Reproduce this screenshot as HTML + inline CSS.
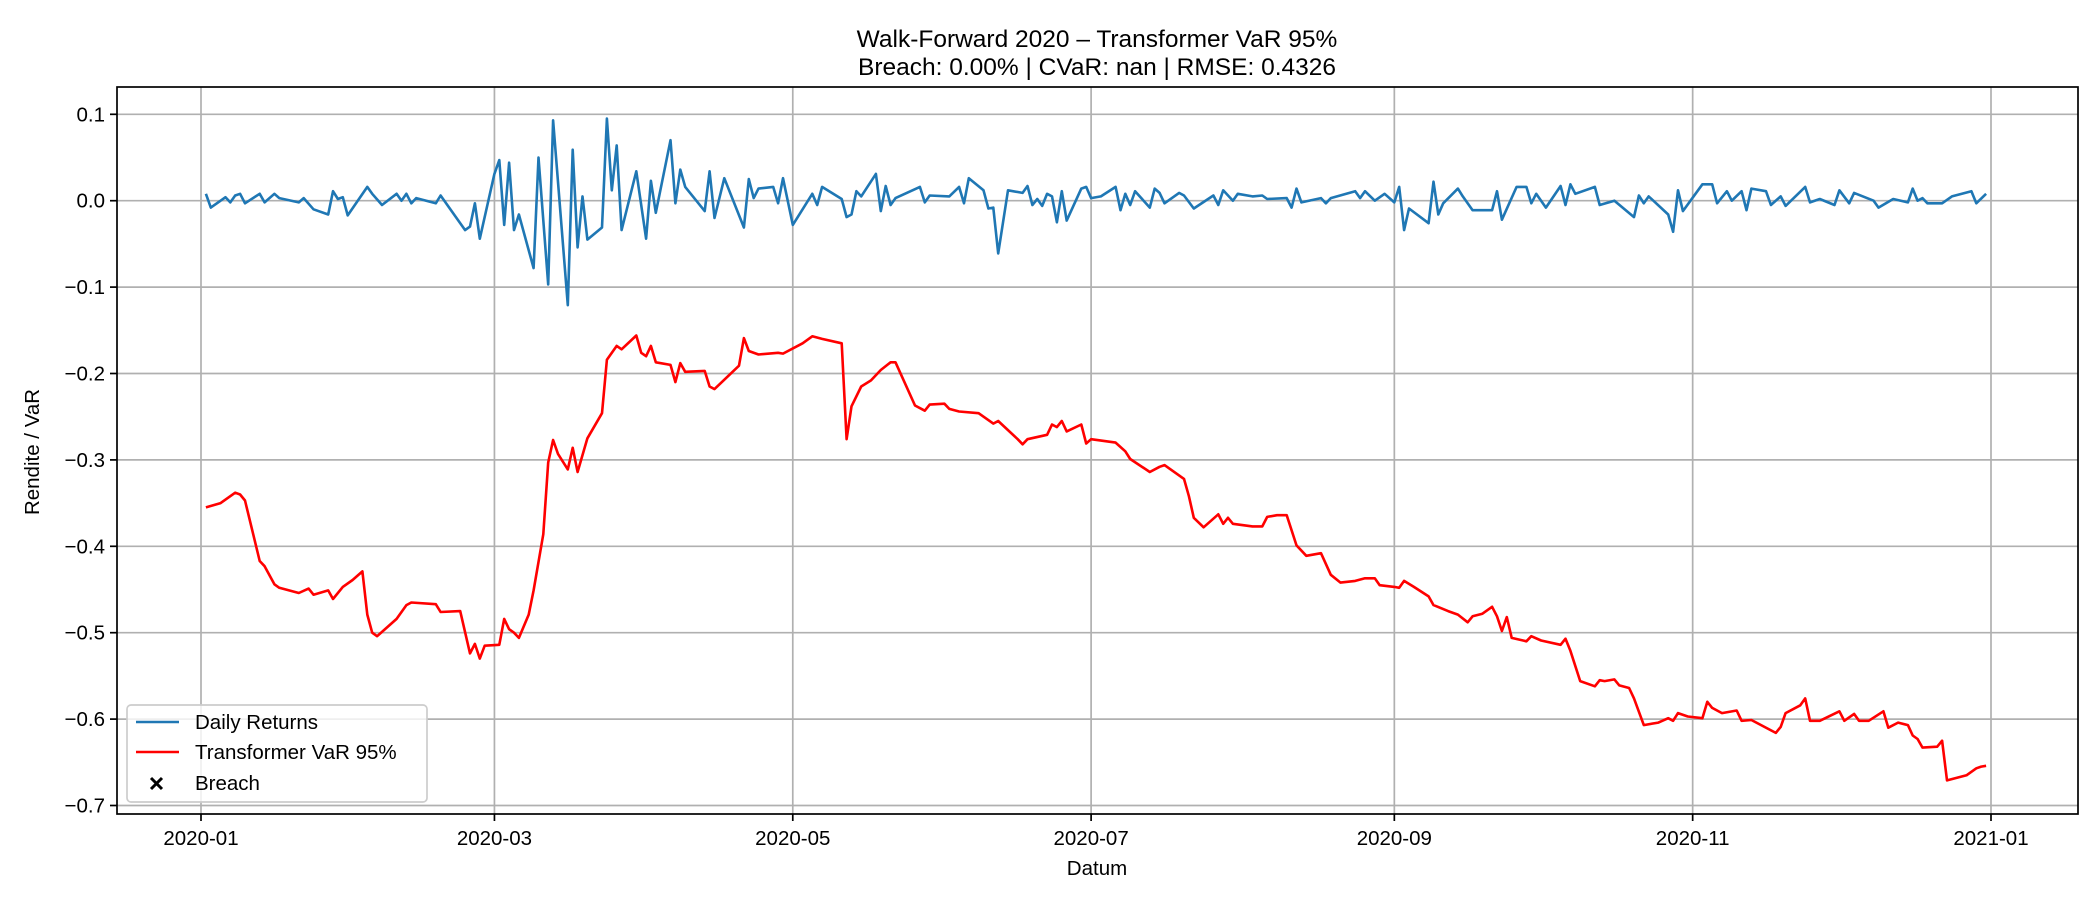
<!DOCTYPE html>
<html><head><meta charset="utf-8"><style>
html,body{margin:0;padding:0;background:#fff;}
svg{display:block;font-family:"Liberation Sans","DejaVu Sans",sans-serif;}
</style></head><body>
<svg id="chart" width="2100" height="900" xmlns="http://www.w3.org/2000/svg">
<rect width="2100" height="900" fill="#fff"/>
<g id="grid"></g>
<g id="series"></g>
<g id="axes"></g>
<g id="legend"></g>
</svg>
<script>
const retDays=[1,2,4,5,6,7,8,9,12,13,15,16,20,21,23,26,27,28,29,30,34,35,37,40,41,42,43,44,48,49,54,55,56,57,60,61,62,63,64,65,68,69,71,72,75,76,77,78,79,82,83,84,85,86,89,91,92,93,96,97,98,99,103,104,105,107,111,112,113,114,117,118,119,121,125,126,127,131,132,133,134,135,138,139,140,141,142,147,148,149,153,155,156,157,160,161,162,163,165,168,169,170,171,172,173,174,175,176,177,180,181,182,184,187,188,189,190,191,194,195,196,197,200,201,203,207,208,209,211,212,215,217,218,222,223,224,225,229,230,231,236,237,238,240,242,244,245,246,247,251,252,253,254,257,258,260,264,265,266,269,271,272,273,275,278,279,280,281,285,286,289,293,294,295,296,300,301,302,303,307,309,310,312,313,315,316,317,320,321,323,324,328,329,331,334,335,337,338,342,343,346,349,350,351,352,353,356,358,362,363,365];
const retVals=[0.008,-0.008,0,0.004,-0.002,0.006,0.008,-0.003,0.008,-0.002,0.008,0.003,-0.002,0.003,-0.01,-0.016,0.011,0.002,0.004,-0.017,0.016,0.008,-0.005,0.008,0,0.008,-0.003,0.003,-0.003,0.006,-0.034,-0.03,-0.003,-0.044,0.031,0.047,-0.028,0.044,-0.034,-0.016,-0.078,0.05,-0.097,0.093,-0.121,0.059,-0.054,0.005,-0.045,-0.031,0.095,0.012,0.064,-0.034,0.034,-0.044,0.023,-0.014,0.07,-0.003,0.036,0.016,-0.012,0.034,-0.02,0.026,-0.031,0.025,0.003,0.014,0.016,-0.003,0.026,-0.028,0.008,-0.005,0.016,0.002,-0.019,-0.016,0.011,0.005,0.031,-0.012,0.017,-0.005,0.003,0.016,-0.002,0.006,0.005,0.016,-0.003,0.026,0.012,-0.009,-0.008,-0.061,0.012,0.009,0.017,-0.005,0.002,-0.006,0.008,0.005,-0.025,0.011,-0.023,0.014,0.016,0.003,0.005,0.016,-0.011,0.008,-0.005,0.011,-0.008,0.014,0.009,-0.003,0.009,0.006,-0.009,0.006,-0.005,0.012,0,0.008,0.005,0.006,0.002,0.003,-0.008,0.014,-0.002,0.003,-0.003,0.003,0.011,0.003,0.011,0,0.008,-0.002,0.016,-0.034,-0.009,-0.026,0.022,-0.016,-0.003,0.014,0.005,-0.011,-0.011,0.011,-0.022,0.016,0.016,-0.003,0.008,-0.008,0.017,-0.005,0.019,0.008,0.016,-0.005,0,-0.019,0.006,-0.003,0.005,-0.016,-0.036,0.012,-0.012,0.019,0.019,-0.003,0.011,0,0.011,-0.011,0.014,0.011,-0.005,0.005,-0.006,0.016,-0.002,0.002,-0.005,0.012,-0.003,0.009,0,-0.008,0.002,-0.002,0.014,0,0.003,-0.003,-0.003,0.005,0.011,-0.003,0.008];
const varDays=[1,4,7,8,9,12,13,15,16,20,22,23,26,27,29,31,33,34,35,36,40,42,43,48,49,53,55,56,57,58,61,62,63,64,65,67,68,70,71,72,73,75,76,77,79,82,83,85,86,89,90,91,92,93,96,97,98,99,103,104,105,110,111,112,114,118,119,123,125,127,131,132,133,135,137,139,141,142,146,148,149,152,153,155,159,162,163,167,168,169,173,174,175,176,177,180,181,182,187,189,190,194,196,197,201,202,203,205,208,209,210,211,215,217,218,220,222,224,226,229,231,233,236,238,240,241,244,245,246,248,251,252,255,257,259,260,262,264,265,266,267,268,271,272,274,278,279,280,282,285,286,287,289,290,292,293,295,298,300,301,302,304,307,308,309,311,314,315,317,322,323,324,327,328,329,331,335,336,338,339,341,344,345,347,349,350,351,352,355,356,357,361,363,364,365];
const varVals=[-0.355,-0.35,-0.338,-0.34,-0.347,-0.417,-0.423,-0.444,-0.448,-0.454,-0.449,-0.456,-0.451,-0.461,-0.447,-0.439,-0.429,-0.479,-0.5,-0.504,-0.484,-0.468,-0.465,-0.467,-0.476,-0.475,-0.524,-0.513,-0.53,-0.515,-0.514,-0.484,-0.496,-0.5,-0.506,-0.479,-0.451,-0.386,-0.303,-0.277,-0.293,-0.311,-0.286,-0.314,-0.275,-0.246,-0.184,-0.168,-0.172,-0.156,-0.176,-0.18,-0.168,-0.187,-0.19,-0.21,-0.188,-0.198,-0.197,-0.215,-0.218,-0.191,-0.159,-0.174,-0.178,-0.176,-0.177,-0.165,-0.157,-0.16,-0.165,-0.276,-0.238,-0.215,-0.208,-0.196,-0.187,-0.187,-0.237,-0.243,-0.236,-0.235,-0.241,-0.244,-0.246,-0.258,-0.255,-0.276,-0.282,-0.276,-0.271,-0.259,-0.262,-0.255,-0.267,-0.259,-0.281,-0.276,-0.28,-0.29,-0.299,-0.314,-0.308,-0.306,-0.322,-0.342,-0.367,-0.378,-0.363,-0.374,-0.367,-0.374,-0.377,-0.377,-0.366,-0.364,-0.364,-0.399,-0.411,-0.408,-0.433,-0.442,-0.44,-0.437,-0.437,-0.445,-0.447,-0.448,-0.44,-0.447,-0.458,-0.468,-0.475,-0.479,-0.488,-0.481,-0.478,-0.47,-0.481,-0.498,-0.482,-0.506,-0.51,-0.504,-0.509,-0.514,-0.507,-0.521,-0.556,-0.562,-0.555,-0.556,-0.554,-0.561,-0.564,-0.576,-0.607,-0.604,-0.599,-0.602,-0.593,-0.597,-0.599,-0.58,-0.587,-0.593,-0.59,-0.602,-0.601,-0.616,-0.609,-0.593,-0.584,-0.576,-0.602,-0.602,-0.591,-0.602,-0.594,-0.602,-0.602,-0.591,-0.61,-0.604,-0.607,-0.619,-0.623,-0.633,-0.632,-0.625,-0.671,-0.665,-0.657,-0.655,-0.654];
const yTicks=[0.1,0.0,-0.1,-0.2,-0.3,-0.4,-0.5,-0.6,-0.7];
const yTickLabels=["0.1","0.0","\u22120.1","\u22120.2","\u22120.3","\u22120.4","\u22120.5","\u22120.6","\u22120.7"];
const xTickDays=[0,60,121,182,244,305,366];
const xTickLabels=["2020-01","2020-03","2020-05","2020-07","2020-09","2020-11","2021-01"];

const L=117,R=2078,T=87,B=814;
const xS=d=>201+d*(1790/366);
const yS=v=>200.7-v*864;
const NS="http://www.w3.org/2000/svg";
function mk(tag,attrs,parent,text){const e=document.createElementNS(NS,tag);for(const k in attrs)e.setAttribute(k,attrs[k]);if(text!==undefined)e.textContent=text;parent.appendChild(e);return e;}
const grid=document.getElementById('grid'),series=document.getElementById('series'),axes=document.getElementById('axes'),legend=document.getElementById('legend');

yTicks.forEach((v,i)=>{
  const y=yS(v);
  const g=mk('line',{x1:L,x2:R,y1:y,y2:y,stroke:'#b0b0b0','stroke-width':1.7},grid);
  
  
  mk('line',{x1:L-7,x2:L,y1:y,y2:y,stroke:'#000','stroke-width':1.7},axes);
  const t=mk('text',{x:L-12,y:y+7,'text-anchor':'end','font-size':20.5,fill:'#000'},axes,yTickLabels[i]);
  
  
});
xTickDays.forEach((d,i)=>{
  const x=xS(d);
  const g=mk('line',{x1:x,x2:x,y1:T,y2:B,stroke:'#b0b0b0','stroke-width':1.7},grid);
  
  
  mk('line',{x1:x,x2:x,y1:B,y2:B+7,stroke:'#000','stroke-width':1.7},axes);
  const t=mk('text',{x:x,y:B+31,'text-anchor':'middle','font-size':20.5,fill:'#000'},axes,xTickLabels[i]);
  
  
});

const retPath=mk('polyline',{points:retDays.map((d,i)=>xS(d).toFixed(1)+','+yS(retVals[i]).toFixed(1)).join(' '),fill:'none',stroke:'#1f77b4','stroke-width':2.6,'stroke-linejoin':'round'},series);


const varPath=mk('polyline',{points:varDays.map((d,i)=>xS(d).toFixed(1)+','+yS(varVals[i]).toFixed(1)).join(' '),fill:'none',stroke:'#ff0000','stroke-width':2.6,'stroke-linejoin':'round'},series);



const frame=mk('rect',{x:L,y:T,width:R-L,height:B-T,fill:'none',stroke:'#000','stroke-width':1.7},axes);



const t1=mk('text',{x:1097,y:47,'text-anchor':'middle','font-size':24.5,fill:'#000'},axes,'Walk-Forward 2020 \u2013 Transformer VaR 95%');


const t2=mk('text',{x:1097,y:75,'text-anchor':'middle','font-size':24.5,fill:'#000'},axes,'Breach: 0.00% | CVaR: nan | RMSE: 0.4326');


const xl=mk('text',{x:1097,y:875,'text-anchor':'middle','font-size':20.5,fill:'#000'},axes,'Datum');


const yl=mk('text',{x:0,y:0,'text-anchor':'middle','font-size':20.5,fill:'#000',transform:'translate(39,452) rotate(-90)'},axes,'Rendite / VaR');



const lb=mk('rect',{x:127,y:705,width:300,height:97,rx:4,fill:'#fff','fill-opacity':0.8,stroke:'#cccccc','stroke-width':1.7},legend);


const items=[['Daily Returns','#1f77b4','line',722],['Transformer VaR 95%','#ff0000','line',752],['Breach','#000','x',783]];
items.forEach(it=>{
  const g=mk('g',{},legend);
  
  
  if(it[2]==='line'){mk('line',{x1:136,x2:179,y1:it[3],y2:it[3],stroke:it[1],'stroke-width':2.6},g);}
  else{mk('path',{d:`M151,${it[3]-5}l11,11M162,${it[3]-5}l-11,11`,stroke:'#000','stroke-width':3},g);}
  mk('text',{x:195,y:it[3]+7,'font-size':20.5,fill:'#000'},g,it[0]);
});
</script>
</body></html>
